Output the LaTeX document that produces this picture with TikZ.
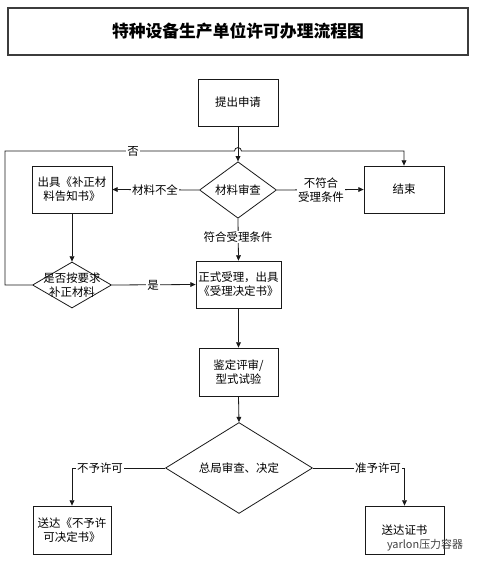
\documentclass[tikz,border=0pt]{standalone}
\usepackage{fontspec}
\usepackage{tikz}
\usetikzlibrary{shapes.geometric, arrows.meta, positioning, calc}
\newfontfamily\cjk{Noto Sans CJK SC}
\definecolor{cLine}{RGB}{25,25,25}
\tikzset{
	titlebox/.style={rectangle, minimum width=345pt, minimum height=35.25pt, text centered, draw=cLine!85, line width=1pt, font=\cjk\bfseries\fontsize{12.6}{14}\selectfont},
	process/.style ={rectangle, minimum width=60pt, minimum height=35.25pt, text centered, align=center, inner sep=1pt, draw=cLine, line width=0.6pt, font=\cjk\fontsize{8.6}{10.6}\selectfont},
	decision/.style={diamond, inner sep=0pt, text centered, align=center, draw=cLine, line width=0.6pt, font=\cjk\fontsize{8.6}{10.6}\selectfont},
	lbl/.style     ={fill=white, inner sep=0.8pt, align=center, font=\cjk\fontsize{8.6}{10.6}\selectfont},
	flowline/.style={line width=0.6pt, draw=cLine},
	flowarrow/.style={-{Triangle[length=4pt, width=3.6pt]}, line width=0.6pt, draw=cLine},
}

\begin{document}
\begin{tikzpicture}[x=0.75pt, y=-0.75pt]
	\useasboundingbox (0,0) rectangle (478,565);
	% boxes and decisions
	\node[titlebox] (title) at (238,31.5) {特种设备生产单位许可办理流程图};
	\node[process] (apply) at (238,102.5) {提出申请};
	\node[decision, minimum width=57.75pt, minimum height=34.5pt] (check) at (238,190) {材料审查};
	\node[process] (notice) at (72,189.5) {出具《补正材\\料告知书》};
	\node[process] (finish) at (404,189.5) {结束};
	\node[decision, minimum width=59.25pt, minimum height=34.5pt] (recheck) at (72,285) {};
	\node[lbl, fill=none] (rechecktext) at (recheck) {是否按要求\\补正材料};
	\node[process, minimum width=63.75pt] (accept) at (238.5,284.5) {正式受理，出具\\《受理决定书》};
	\node[process, minimum width=59.25pt, minimum height=36pt] (review) at (238.5,372) {鉴定评审/\\型式试验};
	\node[decision, minimum width=110.25pt, minimum height=66pt] (decide) at (239,468) {总局审查、决定};
	\node[process, minimum width=58.5pt, minimum height=36pt] (refuse) at (72,530) {送达《不予许\\可决定书》};
	\node[process, minimum width=59.25pt, minimum height=36pt] (grant) at (404.5,530) {送达证书};
	% connectors
	\coordinate (loopL) at (5,151);
	\draw[flowarrow] (apply.south) -- (check.north);
	\draw[flowarrow] (check.west) -- (notice.east);
	\draw[flowarrow] (check.east) -- (finish.west);
	\draw[flowarrow] (check.south) -- (accept.north);
	\draw[flowarrow] (notice.south) -- (recheck.north);
	\draw[flowarrow] (recheck.east) -- (accept.west);
	\draw[flowarrow] (recheck.west) -| (loopL) -- ($(apply.south |- loopL)+(-3.5,0)$)
		arc[start angle=180, end angle=0, radius=2.6pt] -- (loopL -| finish.north) -- (finish.north);
	\draw[flowarrow] (accept.south) -- (review.north);
	\draw[flowarrow] (review.south) -- (decide.north);
	\draw[flowarrow] (decide.west) -| (refuse.north);
	\draw[flowarrow] (decide.east) -| (grant.north);
	% labels on the lines
	\node[lbl] (lack) at (155,190) {材料不全};
	\node[lbl] (unfit) at (321,190) {不符合\\受理条件};
	\node[lbl] (fit) at (238,237) {符合受理条件};
	\node[lbl] (yes) at (153,285) {是};
	\node[lbl] (no) at (133,151) {否};
	\node[lbl] (deny) at (100,468) {不予许可};
	\node[lbl] (allow) at (378,468) {准予许可};
	\node[font=\cjk\fontsize{8.2}{10}\selectfont, text=black!75, inner sep=0pt] (mark) at (425,545) {yarlon压力容器};
\end{tikzpicture}
\end{document}
